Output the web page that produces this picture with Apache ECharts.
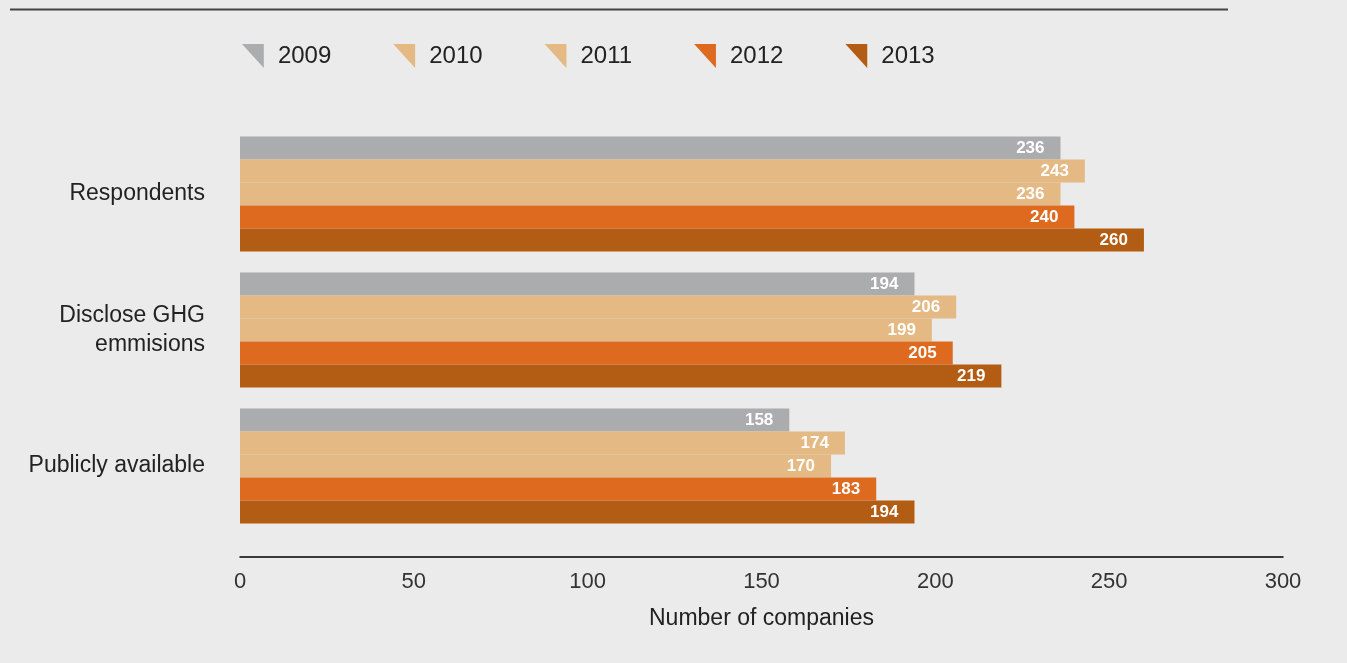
<!DOCTYPE html>
<html>
<head>
<meta charset="utf-8">
<script src="https://cdn.jsdelivr.net/npm/echarts@6/dist/echarts.min.js"></script>
<style>
  html, body { margin: 0; padding: 0; background: #ebebeb; }
  #chart { width: 1347px; height: 663px; }
</style>
</head>
<body>
<div id="chart"></div>
<script>
// Companies reporting, by year
const categories = ['Respondents', 'Disclose GHG\nemmisions', 'Publicly available'];
const years = ['2009', '2010', '2011', '2012', '2013'];
const values2009 = [236, 194, 158];
const values2010 = [243, 206, 174];
const values2011 = [236, 199, 170];
const values2012 = [240, 205, 183];
const values2013 = [260, 219, 194];
const xTicks = [0, 50, 100, 150, 200, 250, 300];

const seriesValues = [values2009, values2010, values2011, values2012, values2013];
const colors = ['#abacae', '#e4b983', '#e4b983', '#dd6a1f', '#b35c13'];
const FONT = '"Liberation Sans", Arial, sans-serif';
const corner = 'path://M0,0 L10,0 L10,11 Z';

const chart = echarts.init(document.getElementById('chart'));
chart.setOption({
  backgroundColor: '#ebebeb',
  animation: false,
  textStyle: { fontFamily: FONT },
  graphic: [{
    type: 'line',
    shape: { x1: 10, y1: 9.5, x2: 1228, y2: 9.5 },
    style: { stroke: '#444', lineWidth: 2 }
  }],
  legend: {
    left: 242,
    top: 44,
    padding: 0,
    itemWidth: 22,
    itemHeight: 24,
    itemGap: 62,
    icon: corner,
    data: years,
    textStyle: { fontSize: 24, color: '#222', fontFamily: FONT, padding: [0, 0, 0, 9] }
  },
  grid: { left: 240, right: 64, top: 126, bottom: 129, containLabel: false },
  xAxis: {
    type: 'value',
    min: xTicks[0],
    max: xTicks[xTicks.length - 1],
    interval: xTicks[1] - xTicks[0],
    offset: 23,
    name: 'Number of companies',
    nameLocation: 'middle',
    nameGap: 50,
    nameTextStyle: { fontSize: 23, color: '#222', fontFamily: FONT },
    axisLine: { show: true, lineStyle: { color: '#000', width: 1.5 } },
    axisTick: { show: false },
    splitLine: { show: false },
    axisLabel: { fontSize: 22, color: '#333', margin: 14, fontFamily: FONT }
  },
  yAxis: {
    type: 'category',
    inverse: true,
    data: categories,
    axisLine: { show: false },
    axisTick: { show: false },
    axisLabel: {
      fontSize: 23, color: '#222', margin: 35, lineHeight: 29, align: 'right',
      padding: [6, 0, 0, 0], fontFamily: FONT
    }
  },
  series: years.map((y, i) => ({
    name: y,
    type: 'bar',
    data: seriesValues[i],
    barWidth: 23,
    barGap: '0%',
    itemStyle: { color: colors[i] },
    label: {
      show: true,
      position: 'insideRight',
      distance: 16,
      color: '#fff',
      fontWeight: 'bold',
      fontSize: 17,
      fontFamily: FONT
    }
  }))
});
</script>
</body>
</html>
